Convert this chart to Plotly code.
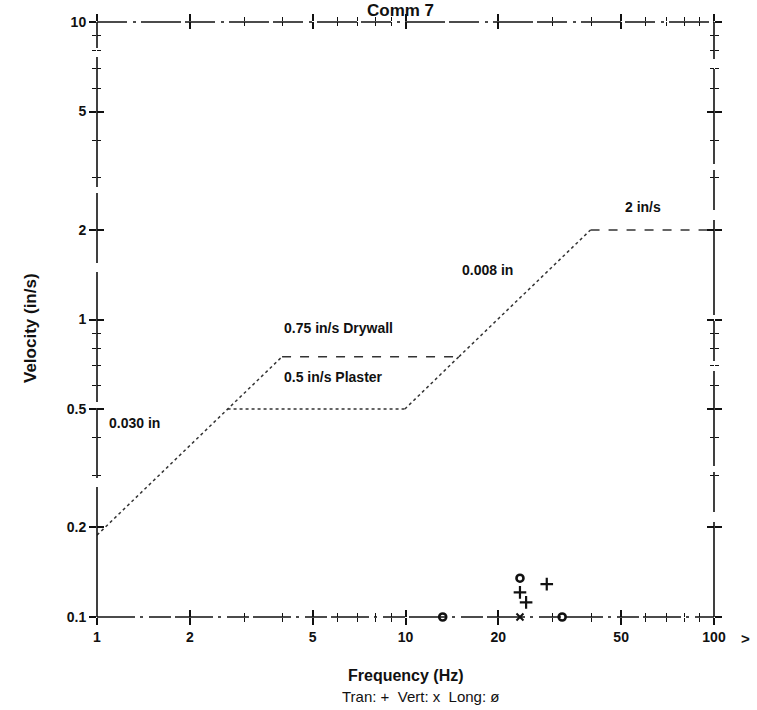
import math
import plotly.graph_objects as go

# USBM RI 8507 / OSM limit curve (velocity vs frequency)
drywall_freq = [1.0, 3.98, 14.9, 39.8, 100.0]
drywall_vel = [0.1885, 0.75, 0.75, 2.0, 2.0]
plaster_freq = [2.65, 9.95, 14.9]
plaster_vel = [0.5, 0.5, 0.75]

# measured peak particle velocities per channel
tran_freq = [28.7, 23.5, 24.6]
tran_vel = [0.129, 0.121, 0.112]
vert_freq = [23.5]
vert_vel = [0.1]
long_freq = [23.5, 13.2, 32.2]
long_vel = [0.135, 0.1, 0.1]

# axis ticks
x_major = [1, 2, 5, 10, 20, 50, 100]
x_major_text = ["1", "2", "5", "10", "20", "50", "100"]
x_minor = [3, 4, 6, 7, 8, 9, 30, 40, 60, 70, 80, 90]
y_major = [0.1, 0.2, 0.5, 1, 2, 5, 10]
y_major_text = ["0.1", "0.2", "0.5", "1", "2", "5", "10"]
y_minor = [0.3, 0.4, 0.6, 0.7, 0.8, 0.9, 3, 4, 6, 7, 8, 9]

# curve labels: text, frequency, velocity of the label's left edge
label_text = ["0.030 in", "0.75 in/s Drywall", "0.5 in/s Plaster", "0.008 in", "2 in/s"]
label_freq = [1.077, 3.98, 3.98, 15.0, 50.7]
label_vel = [0.449, 0.936, 0.641, 1.466, 2.39]

FONT = "Liberation Sans, Arial, sans-serif"
INK = "#111111"

fig = go.Figure()

# limit curve segments
segments = [
    (drywall_freq[0:2], drywall_vel[0:2], "dot"),
    (drywall_freq[1:3], drywall_vel[1:3], "dash"),
    (drywall_freq[2:4], drywall_vel[2:4], "dot"),
    (drywall_freq[3:5], drywall_vel[3:5], "dash"),
    (plaster_freq[0:2], plaster_vel[0:2], "dot"),
    (plaster_freq[1:3], plaster_vel[1:3], "dot"),
]
for fx, fy, dash in segments:
    fig.add_trace(go.Scatter(
        x=fx, y=fy, mode="lines",
        line=dict(color="#333333", width=1.5, dash=dash),
        showlegend=False, hoverinfo="skip"))

fig.add_trace(go.Scatter(
    x=tran_freq, y=tran_vel, mode="markers", cliponaxis=False,
    marker=dict(symbol="cross-thin", size=9, color=INK, line=dict(color=INK, width=2.2)),
    showlegend=False))
fig.add_trace(go.Scatter(
    x=vert_freq, y=vert_vel, mode="markers", cliponaxis=False,
    marker=dict(symbol="x-thin", size=7, color=INK, line=dict(color=INK, width=2)),
    showlegend=False))
fig.add_trace(go.Scatter(
    x=long_freq, y=long_vel, mode="markers", cliponaxis=False,
    marker=dict(symbol="circle-open", size=7, color=INK, line=dict(color=INK, width=2.6)),
    showlegend=False))

# carrier for the inward-pointing tick set
fig.add_trace(go.Scatter(x=[None], y=[None], xaxis="x2", yaxis="y2",
                         showlegend=False, hoverinfo="skip"))

W, H = 757, 710
xdom = [97 / W, 714 / W]
ydom = [1 - 617 / H, 1 - 22 / H]

tickfont = dict(family=FONT, size=14, color=INK, weight="bold")
common = dict(type="log", showgrid=False, zeroline=False, showline=False,
              automargin=False, tickcolor=INK, tickwidth=1.5)

fig.update_layout(
    width=W, height=H,
    margin=dict(l=0, r=0, t=0, b=0),
    paper_bgcolor="white", plot_bgcolor="white",
    template="none",
    showlegend=False,
    xaxis=dict(**common, range=[0, 2], domain=xdom, anchor="y",
               tickmode="array", tickvals=x_major, ticktext=x_major_text,
               ticks="outside", ticklen=7, mirror="allticks", tickfont=tickfont,
               minor=dict(tickmode="array", tickvals=x_minor, ticks="outside",
                          ticklen=4, tickwidth=1.2, tickcolor=INK)),
    yaxis=dict(**common, range=[-1, 1], domain=ydom, anchor="x",
               tickmode="array", tickvals=y_major, ticktext=y_major_text,
               ticks="outside", ticklen=7, mirror="allticks", tickfont=tickfont,
               minor=dict(tickmode="array", tickvals=y_minor, ticks="outside",
                          ticklen=4, tickwidth=1.2, tickcolor=INK)),
    xaxis2=dict(**common, range=[0, 2], domain=xdom, anchor="y2", overlaying="x",
                tickmode="array", tickvals=x_major, ticks="inside", ticklen=7,
                mirror="allticks", showticklabels=False,
                minor=dict(tickmode="array", tickvals=x_minor, ticks="inside",
                           ticklen=4, tickwidth=1.2, tickcolor=INK)),
    yaxis2=dict(**common, range=[-1, 1], domain=ydom, anchor="x2", overlaying="y",
                tickmode="array", tickvals=y_major, ticks="inside", ticklen=7,
                mirror="allticks", showticklabels=False,
                minor=dict(tickmode="array", tickvals=y_minor, ticks="inside",
                           ticklen=4, tickwidth=1.2, tickcolor=INK)),
)

# broken frame lines
frame = [
    (0, 0, 1, 0, "38px,5px,3px,6px,22px,4px"),
    (0, 1, 1, 1, "30px,6px,3px,5px,40px,4px"),
    (0, 0, 0, 1, "130px,9px,70px,6px"),
    (1, 0, 1, 1, "95px,10px,40px,6px"),
]
for x0, y0, x1, y1, dash in frame:
    fig.add_shape(type="line", xref="x domain", yref="y domain",
                  x0=x0, y0=y0, x1=x1, y1=y1,
                  line=dict(color=INK, width=1.6, dash=dash))

# annotations on log axes take log10 coordinates
label_font = dict(family=FONT, size=14, color=INK, weight="bold")
for txt, fx, fy in zip(label_text, label_freq, label_vel):
    fig.add_annotation(text=txt, x=math.log10(fx), y=math.log10(fy),
                       xref="x", yref="y", xanchor="left", yanchor="middle",
                       showarrow=False, font=label_font)

fig.add_annotation(text="Comm 7", x=400 / W, y=1 - 22 / H, xref="paper", yref="paper",
                   xanchor="center", yanchor="bottom", showarrow=False,
                   font=dict(family=FONT, size=17, color=INK, weight="bold"))
fig.add_annotation(text="Velocity (in/s)", x=30 / W, y=1 - 328 / H,
                   xref="paper", yref="paper", textangle=-90,
                   xanchor="center", yanchor="middle", showarrow=False,
                   font=dict(family=FONT, size=17, color=INK, weight="bold"))
fig.add_annotation(text="Frequency (Hz)", x=406 / W, y=1 - 675 / H,
                   xref="paper", yref="paper", xanchor="center", yanchor="middle",
                   showarrow=False,
                   font=dict(family=FONT, size=16, color=INK, weight="bold"))
fig.add_annotation(text="Tran: +  Vert: x  Long: ø", x=420 / W, y=1 - 696 / H,
                   xref="paper", yref="paper", xanchor="center", yanchor="middle",
                   showarrow=False, font=dict(family=FONT, size=15, color=INK))
fig.add_annotation(text="&gt;", x=745 / W, y=1 - 638 / H,
                   xref="paper", yref="paper", xanchor="center", yanchor="middle",
                   showarrow=False,
                   font=dict(family=FONT, size=15, color=INK, weight="bold"))

fig.write_html("out.html")
